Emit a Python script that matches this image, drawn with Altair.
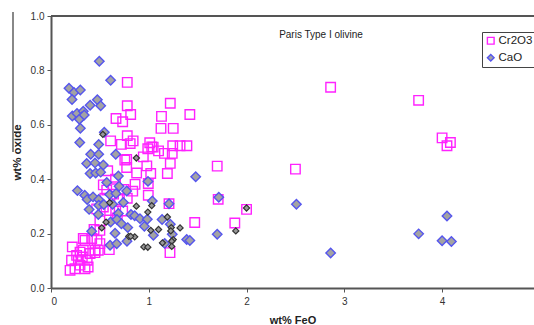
import altair as alt
import pandas as pd

# Cr2O3 in olivine (wt%) against FeO (wt%)
cr_x = [2.86, 3.76, 4.0, 4.085, 4.05, 2.5, 1.70, 1.71, 2.0, 1.88, 1.47, 1.217, 1.207,
        0.78, 1.22, 0.78, 0.815, 0.665, 0.733, 1.13, 1.42, 1.125, 1.25, 0.78, 0.61,
        0.72, 0.81, 0.84, 1.01, 0.99, 1.03, 1.045, 1.10, 1.16, 1.245, 1.32, 1.39,
        1.24, 1.22, 0.774, 0.755, 0.944, 0.98, 1.02, 1.19, 0.774, 0.876,
        0.58, 0.86, 0.747, 0.836, 0.995, 0.995, 0.535, 0.637, 0.66, 0.733, 0.662,
        0.60, 0.535, 0.467, 0.678, 0.50, 0.44, 0.50, 0.416, 0.348, 0.33, 0.47, 0.50,
        0.484, 0.45, 0.596, 0.55, 0.70, 0.78, 0.64, 0.57,
        0.218, 0.21, 0.195, 0.245, 0.297, 0.32, 0.28, 0.38, 0.37, 0.33, 0.40, 0.45,
        0.348, 0.297, 0.262]
cr_y = [0.738, 0.69, 0.552, 0.535, 0.523, 0.437, 0.448, 0.326, 0.289, 0.239, 0.241, 0.13, 0.31,
        0.756, 0.679, 0.67, 0.638, 0.623, 0.611, 0.631, 0.638, 0.587, 0.587, 0.56, 0.541,
        0.528, 0.531, 0.541, 0.534, 0.512, 0.519, 0.518, 0.504, 0.495, 0.523, 0.523, 0.523,
        0.495, 0.458, 0.473, 0.47, 0.482, 0.449, 0.421, 0.421, 0.443, 0.423,
        0.431, 0.381, 0.362, 0.356, 0.384, 0.341, 0.379, 0.372, 0.40, 0.283, 0.283,
        0.285, 0.298, 0.291, 0.258, 0.247, 0.215, 0.212, 0.182, 0.175, 0.182, 0.175, 0.163,
        0.139, 0.13, 0.141, 0.33, 0.325, 0.33, 0.345, 0.36,
        0.151, 0.102, 0.065, 0.071, 0.084, 0.114, 0.102, 0.077, 0.102, 0.139, 0.127, 0.139,
        0.071, 0.132, 0.12]

# CaO in olivine (wt%) against FeO (wt%)
cao_x = [0.494, 0.61, 0.184, 0.235, 0.30, 0.215, 0.474, 0.508, 0.40, 0.218, 0.266, 0.33,
         0.314, 0.29, 0.34, 0.30, 0.545, 0.294, 0.488, 0.662, 0.406, 0.488, 0.365, 0.45,
         0.535, 0.40, 0.457, 0.508, 0.57, 0.689, 0.992, 1.48, 0.27, 0.345, 0.37, 0.43,
         0.488, 0.60, 0.665, 0.696, 0.774, 0.74, 0.39, 0.488, 0.54, 0.63, 1.036, 1.207,
         1.716, 0.484, 0.689, 0.818, 0.856, 0.91, 0.985, 1.136, 0.61, 0.675, 0.72, 0.785,
         0.955, 1.22, 0.416, 0.655, 1.047, 1.24, 0.604, 0.672, 0.777, 1.163, 1.388, 1.42,
         1.70, 2.51, 2.86, 3.76, 4.05, 4.0, 4.095]
cao_y = [0.834, 0.764, 0.734, 0.719, 0.728, 0.693, 0.692, 0.67, 0.672, 0.632, 0.642, 0.65,
         0.629, 0.62, 0.636, 0.587, 0.573, 0.535, 0.528, 0.492, 0.492, 0.492, 0.458, 0.46,
         0.452, 0.421, 0.423, 0.426, 0.388, 0.412, 0.392, 0.409, 0.358, 0.341, 0.325, 0.335,
         0.325, 0.344, 0.347, 0.374, 0.357, 0.314, 0.289, 0.304, 0.307, 0.308, 0.32, 0.31,
         0.334, 0.27, 0.274, 0.27, 0.266, 0.255, 0.253, 0.252, 0.243, 0.252, 0.236, 0.222,
         0.227, 0.234, 0.209, 0.201, 0.194, 0.198, 0.157, 0.163, 0.172, 0.164, 0.178, 0.175,
         0.198, 0.308, 0.129, 0.199, 0.265, 0.174, 0.171]

# second CaO group, small dark-outlined diamonds
cab_x = [0.53, 0.873, 0.873, 0.99, 1.03, 1.19, 1.23, 1.32, 1.225, 1.10, 1.02, 1.25, 1.235,
         1.14, 1.235, 0.95, 0.99, 0.795, 0.856, 0.815, 0.563, 0.519, 0.60, 1.89, 2.0]
cab_y = [0.565, 0.478, 0.301, 0.279, 0.303, 0.261, 0.222, 0.221, 0.21, 0.215, 0.212, 0.178,
         0.172, 0.166, 0.153, 0.151, 0.15, 0.19, 0.188, 0.19, 0.242, 0.221, 0.314, 0.21, 0.294]

series_names = ["Cr2O3", "CaO"]
x_ticks = [0, 1, 2, 3, 4]
y_ticks = [0.0, 0.2, 0.4, 0.6, 0.8, 1.0]

main = pd.DataFrame({
    "FeO": cr_x + cao_x,
    "oxide": cr_y + cao_y,
    "series": ["Cr2O3"] * len(cr_x) + ["CaO"] * len(cao_x),
})
extra = pd.DataFrame({"FeO": cab_x, "oxide": cab_y})

FONT = "Liberation Sans"
W, H = 483, 272

xs = alt.Scale(domain=[0, 4.94], nice=False, zero=False)
ys = alt.Scale(domain=[0, 1.0], nice=False)

x_axis = alt.Axis(values=x_ticks, format="d", title="wt% FeO", grid=False,
                  domainColor="#555555", domainWidth=2, tickColor="#555555",
                  tickSize=4, labelFontSize=10, labelColor="#333333", labelPadding=4,
                  titleFontSize=11, titleFontWeight="bold", titleColor="#222222",
                  titlePadding=8)
y_axis = alt.Axis(values=y_ticks, format=".1f", title="wt% oxide", grid=False,
                  domainColor="#555555", domainWidth=2, tickColor="#555555",
                  tickSize=4, labelFontSize=10, labelColor="#333333", labelPadding=3,
                  titleFontSize=11.5, titleFontWeight="bold", titleColor="#222222",
                  titlePadding=8)

pts = alt.Chart(main).mark_point(filled=True, strokeWidth=1.4, opacity=1, size=90).encode(
    x=alt.X("FeO:Q", scale=xs, axis=x_axis),
    y=alt.Y("oxide:Q", scale=ys, axis=y_axis),
    shape=alt.Shape("series:N", scale=alt.Scale(domain=series_names, range=["square", "diamond"]),
                    legend=alt.Legend(title=None)),
    stroke=alt.Stroke("series:N", scale=alt.Scale(domain=series_names, range=["#FF22FF", "#5555EE"]),
                      legend=alt.Legend(title=None)),
    fill=alt.Fill("series:N", scale=alt.Scale(domain=series_names, range=["transparent", "#A3A3A3"]),
                  legend=alt.Legend(title=None)),
)

small = alt.Chart(extra).mark_point(shape="diamond", filled=True, size=38, fill="#999999",
                                    stroke="#333333", strokeWidth=1.2, opacity=1).encode(
    x=alt.X("FeO:Q", scale=xs),
    y=alt.Y("oxide:Q", scale=ys),
)

frame = pd.DataFrame({"k": [0]})
top_line = alt.Chart(frame).mark_rule(color="#555555", strokeWidth=2).encode(
    x=alt.value(0), x2=alt.value(W), y=alt.value(0)
)
outer_edge = alt.Chart(frame).mark_rule(color="#888888", strokeWidth=2).encode(
    x=alt.value(-38), y=alt.value(-4), y2=alt.value(136)
)

label = alt.Chart(pd.DataFrame({"t": ["Paris Type I olivine"]})).mark_text(
    font=FONT, fontSize=10, color="#222222", align="center", baseline="middle"
).encode(x=alt.value(270), y=alt.value(19), text="t:N")

chart = alt.layer(top_line, outer_edge, pts, small, label).properties(
    width=W, height=H,
    autosize=alt.AutoSizeParams(type="none"),
    padding={"left": 51, "top": 16, "right": 0, "bottom": 37},
).configure_view(stroke=None).configure(font=FONT).configure_legend(
    orient="none", legendX=431, legendY=16, strokeColor="#444444", fillColor="white",
    padding=3, labelFontSize=11.5, labelColor="#222222", symbolSize=45, rowPadding=4,
    labelOffset=2, cornerRadius=0, symbolStrokeWidth=1.4, labelFont=FONT
)

chart.save("out.html", embed_options={"renderer": "svg", "actions": False})
